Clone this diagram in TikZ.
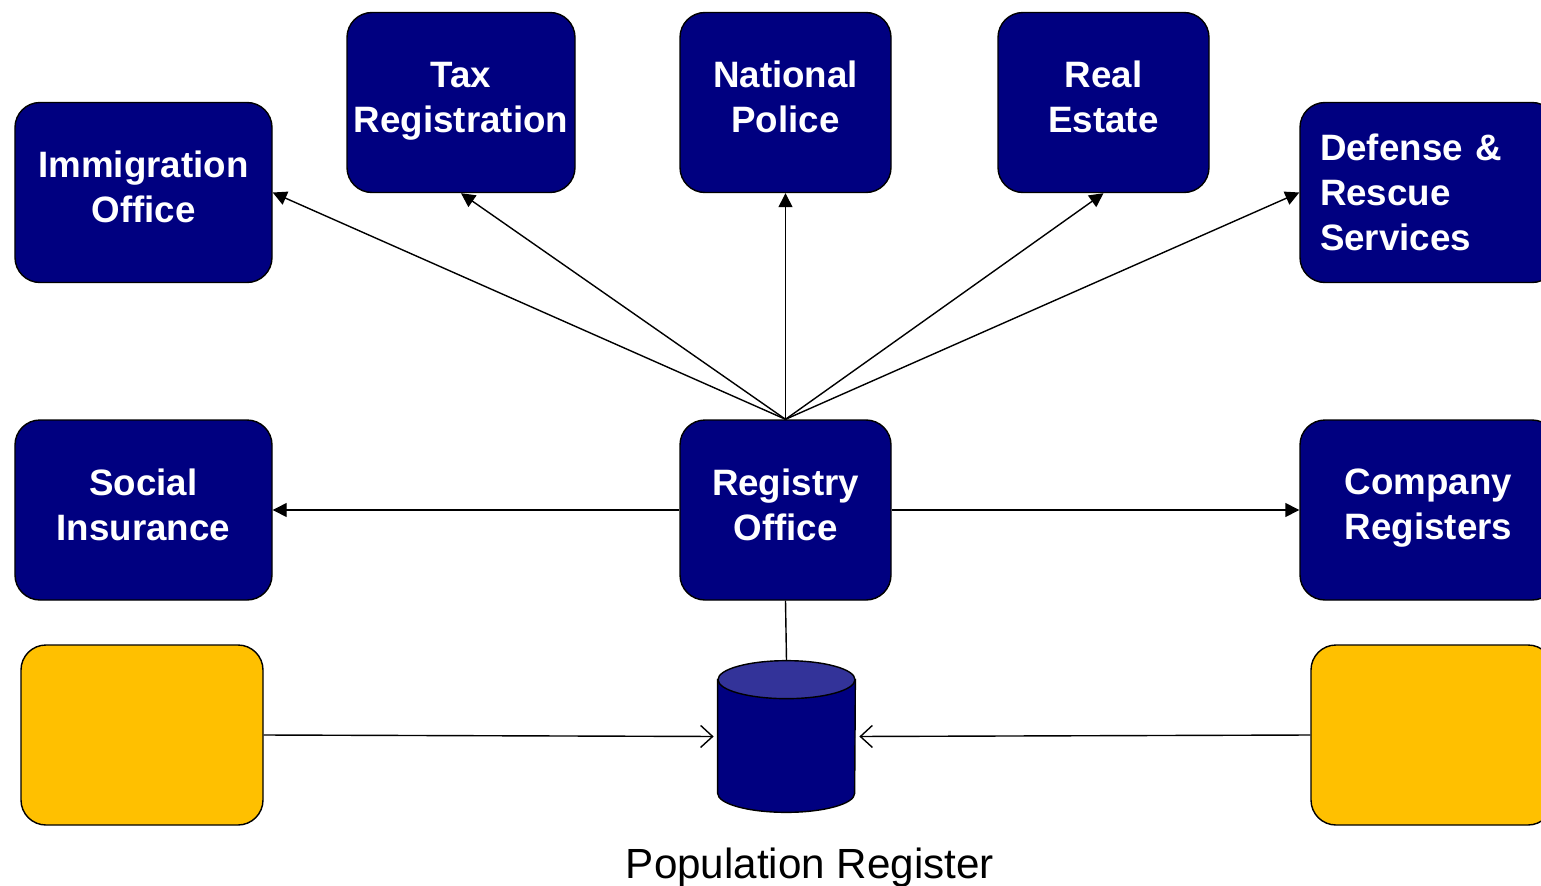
\documentclass[tikz,border=0pt]{standalone}
\usepackage{fontspec}
\setsansfont{Liberation Sans}
\usepackage{tikz}
\usetikzlibrary{arrows.meta}

\definecolor{boxblue}{HTML}{000080}
\definecolor{toplight}{HTML}{333399}
\definecolor{boxyellow}{HTML}{FFC000}

\begin{document}
\begin{tikzpicture}[
			mynode/.style={draw, line width=0.8pt, fill=boxblue, text=white, rounded corners=0.5cm,
				align=center, minimum width=4.22cm, minimum height=3.6cm, inner sep=0pt, text depth=0.22cm,
				font=\sffamily\bfseries\fontsize{20.9}{25.6}\selectfont},
			yelnode/.style={draw, line width=0.8pt, fill=boxyellow, rounded corners=0.5cm,
				minimum width=4.84cm, minimum height=3.6cm},
			myarrow/.style={-{Triangle[length=0.28cm, width=0.28cm]}, line width=0.8pt},
			openarrow/.style={-{Straight Barb[length=0.24cm, width=0.44cm]}, line width=0.8pt, shorten >=0.08cm}
		]
		\useasboundingbox (0,0) rectangle (30.82,-17.72);

		\node[mynode, minimum width=5.14cm] (imm) at (2.87,-3.85) {Immigration\\Office};
		\node[mynode, minimum width=4.56cm] (tax) at (9.22,-2.05) {Tax\\Registration};
		\node[mynode] (pol) at (15.71,-2.05) {National\\Police};
		\node[mynode] (est) at (22.07,-2.05) {Real\\Estate};
		\node[mynode, minimum width=5.14cm, align=left, text width=4.34cm, inner xsep=0.4cm, text depth={}] (def) at (28.57,-3.85) {Defense \&\\Rescue\\Services};

		\node[mynode, minimum width=5.14cm] (soc) at (2.87,-10.2) {Social\\Insurance};
		\node[mynode] (reg) at (15.71,-10.2) {Registry\\Office};
		\node[mynode, minimum width=5.14cm] (com) at (28.57,-10.2) {Company\\Registers};

		\node[yelnode] (yl) at (2.84,-14.7) {};
		\node[yelnode] (yr) at (28.64,-14.7) {};

		% database cylinder
		\node[minimum width=2.74cm, minimum height=3.02cm, inner sep=0pt] (db) at (15.73,-14.73) {};
		\filldraw[fill=boxblue, line width=0.8pt] ([yshift=-0.38cm]db.north west) -- ([yshift=0.38cm]db.south west)
			arc[start angle=180, end angle=360, x radius=1.37cm, y radius=0.38cm] -- ([yshift=-0.38cm]db.north east) -- cycle;
		\filldraw[fill=toplight, line width=0.8pt] ([yshift=-0.38cm]db.north) ellipse [x radius=1.37cm, y radius=0.38cm];
		\node[font=\sffamily\fontsize{24}{28}\selectfont] (pop) at (16.2,-17.36) {Population Register};

		\draw[myarrow] (reg.north) -- (imm.east);
		\draw[myarrow] (reg.north) -- (tax.south);
		\draw[myarrow] (reg.north) -- (pol.south);
		\draw[myarrow] (reg.north) -- (est.south);
		\draw[myarrow] (reg.north) -- (def.west);
		\draw[myarrow] (reg.west) -- (soc.east);
		\draw[myarrow] (reg.east) -- (com.west);

		\draw[line width=0.8pt] (reg.south) -- (db.north);
		\draw[openarrow] (yl.east) -- (db.west);
		\draw[openarrow] (yr.west) -- (db.east);

	\end{tikzpicture}
\end{document}
